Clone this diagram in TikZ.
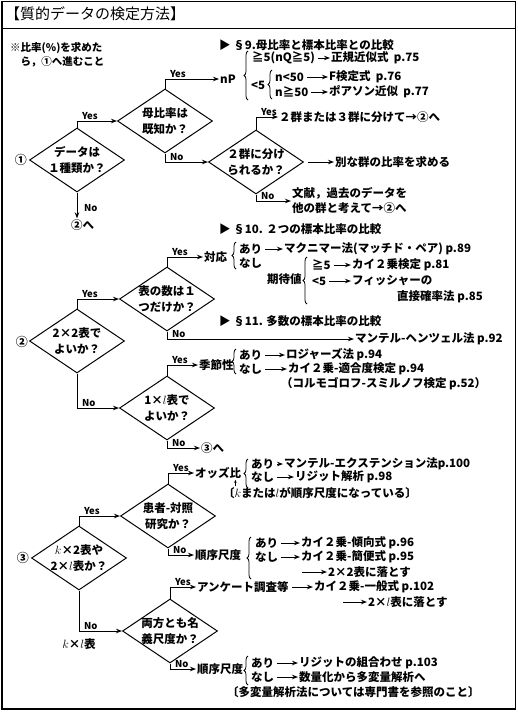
\documentclass[tikz,border=0pt]{standalone}
\usepackage{fontspec}
\setmainfont{Noto Sans CJK JP}
\usetikzlibrary{shapes.geometric,arrows.meta,decorations.pathreplacing}

\tikzset{
  ask/.style={diamond, draw, aspect=1.5, line width=1pt, inner sep=-2pt,
    minimum width=95pt, minimum height=64pt, align=center,
    font=\bfseries\fontsize{11.5}{16}\selectfont},
  txt/.style={anchor=west, inner sep=1pt, font=\bfseries\fontsize{11.5}{15}\selectfont},
  yn/.style={pos=0.5, anchor=south west, xshift=4pt, inner sep=0.5pt,
    font=\bfseries\fontsize{9.5}{10}\selectfont},
  num/.style={anchor=east, inner sep=1pt, font=\bfseries\fontsize{12}{12}\selectfont},
  flow/.style={line width=1pt, -{Stealth[length=6pt,width=4.5pt]}},
  go/.style={flow, shorten <=2pt},
  brc/.style={decorate, decoration={brace, amplitude=4pt}, line width=0.8pt},
}

\begin{document}
\begin{tikzpicture}[x=1pt,y=-1pt]
\useasboundingbox (0,0) rectangle (518,713);

% Frame
\draw[line width=1.2pt] (2,1.5) rectangle (515.5,709);
\draw[line width=1pt] (2,28) -- (515.5,28);
\node[txt, font=\fontsize{15}{15}\selectfont] (title) at (4,14) {【質的データの検定方法】};
\node[txt, align=left, font=\bfseries\fontsize{10.5}{14}\selectfont] (memo) at (9,55)
  {※比率(\%)を求めた\\\hspace*{1em}ら，①へ進むこと};

% Section 1
\node[num] (n1) at (28,160) {①};
\node[ask] (d1) at (77,160) {データは\\１種類か？};
\node[ask] (d2) at (165,121) {母比率は\\既知か？};
\node[ask] (d3) at (256,162) {２群に分け\\られるか？};
\node[txt] (to2) at (70,225) {②へ};
\node[txt] (np) at (219,79) {nP};
\node[txt] (goal2) at (278,117) {２群または３群に分けて→②へ};
\node[txt] (other) at (334,162) {別な群の比率を求める};
\node[txt, align=left] (lit) at (291,201) {文献，過去のデータを\\他の群と考えて→②へ};

\draw[flow] (d1.north) |- node[yn]{Yes} (d2.west);
\draw[flow] (d1.south) -- node[yn, pos=0.6, anchor=west, xshift=2pt]{No} (d1.south |- to2.north);
\draw[flow] (d2.north) |- node[yn]{Yes} (np.west);
\draw[flow] (d2.south) |- node[yn]{No} (d3.west);
\draw[flow] (d3.north) |- node[yn]{Yes} (goal2.west);
\draw[go, shorten <=4pt] (d3.east) -- (other.west);
\draw[flow] (d3.south) |- node[yn]{No} (lit.west);

% nP
\node[txt] (sec9) at (218,45) {▶ §9.母比率と標本比率との比較};
\draw[brc] (248,100) -- (248,51);
\node[txt] (ge5) at (251,58) {≧5(nQ≧5)};
\node[txt] (norm) at (330,58) {正規近似式\ \ p.75};
\node[txt] (lt5) at (250,85) {<5};
\draw[brc] (272,99) -- (272,70);
\node[txt] (nlt) at (274,77) {n<50};
\node[txt] (fdist) at (328,77) {F検定式\ \ p.76};
\node[txt] (nge) at (274,92) {n≧50};
\node[txt] (pois) at (328,92) {ポアソン近似\ \ p.77};
\draw[go] (ge5) -- (norm);
\draw[go] (nlt) -- (fdist);
\draw[go] (nge) -- (pois);

% Section 2
\node[num] (n2) at (29,342) {②};
\node[ask] (d5) at (77,341) {2×2表で\\よいか？};
\node[ask] (d4) at (167,299) {表の数は１\\つだけか？};
\node[ask] (d6) at (167,408) {1×$l$表で\\よいか？};
\node[txt] (sec10) at (218,229) {▶ §10. ２つの標本比率の比較};
\node[txt] (pair) at (203,257) {対応};
\draw[brc] (236,269) -- (236,242);
\node[txt] (pairy) at (238,249) {あり};
\node[txt] (mcn) at (283,249) {マクニマー法(マッチド・ペア)\ p.89};
\node[txt] (pairn) at (238,263) {なし};
\node[txt] (expv) at (266,279) {期待値};
\draw[brc] (307,304) -- (307,257);
\node[txt] (e5) at (311,265) {≧5};
\node[txt] (chi) at (351,265) {カイ２乗検定 p.81};
\node[txt] (e4) at (311,281) {<5};
\node[txt] (fish) at (351,281) {フィッシャーの};
\node[txt] (fish2) at (396,297) {直接確率法 p.85};
\draw[go] (pairy) -- (mcn);
\draw[go] (e5) -- (chi);
\draw[go] (e4) -- (fish);
\node[txt] (sec11) at (218,321) {▶ §11. 多数の標本比率の比較};
\node[txt] (mh) at (354,339) {マンテル-ヘンツェル法 p.92};
\node[txt] (seas) at (198,365) {季節性};
\draw[brc] (236,374) -- (236,349);
\node[txt] (seasy) at (238,355) {あり};
\node[txt] (rog) at (285,355) {ロジャーズ法 p.94};
\node[txt] (seasn) at (238,369) {なし};
\node[txt] (fit) at (287,369) {カイ２乗-適合度検定 p.94};
\node[txt] (ks) at (280,384) {（コルモゴロフ-スミルノフ検定 p.52）};
\node[txt] (to3) at (200,448) {③へ};
\draw[go] (seasy) -- (rog);
\draw[go] (seasn) -- (fit);

\draw[flow] (d5.north) |- node[yn]{Yes} (d4.west);
\draw[flow] (d4.north) |- node[yn]{Yes} (pair.west);
\draw[flow] (d4.south) |- node[yn]{No} (mh.west);
\draw[flow] (d5.south) |- node[yn]{No} (d6.west);
\draw[flow] (d6.north) |- node[yn]{Yes} (seas.west);
\draw[flow] (d6.south) |- node[yn]{No} (to3.west);

% Section 3
\node[num] (n3) at (30,558) {③};
\node[ask] (d7) at (79,558) {$k$×2表や\\2×$l$表か？};
\node[ask] (d8) at (168,516) {患者-対照\\研究か？};
\node[ask] (d9) at (170,631) {両方とも名\\義尺度か？};
\node[txt, anchor=center] (kl) at (79,644) {$k$×$l$表};
\node[txt] (odds) at (194,473) {オッズ比};
\draw[brc] (248,488) -- (248,459);
\node[txt] (oddsy) at (250,464) {あり};
\node[txt] (ext) at (283,464) {マンテル-エクステンション法p.100};
\node[txt] (oddsn) at (250,477) {なし};
\node[txt] (logit) at (294,477) {リジット解析 p.98};
\node[txt] (ordnote) at (222,493) {〔$k$または$l$が順序尺度になっている〕};
\draw[go] (oddsy) -- (ext);
\draw[go] (oddsn) -- (logit);
\draw[line width=0.7pt, -{Stealth[length=3pt,width=2.5pt]}] ([xshift=-7pt]odds.south east |- ordnote.north) -- ([xshift=-7pt]odds.south east);

\node[txt] (ord1) at (194,555) {順序尺度};
\draw[brc] (251,579) -- (251,537);
\node[txt] (ord1y) at (254,543) {あり};
\node[txt] (trend) at (300,543) {カイ２乗-傾向式 p.96};
\node[txt] (ord1n) at (254,557) {なし};
\node[txt] (simple) at (300,557) {カイ２乗-簡便式 p.95};
\coordinate (drop2s) at (302,572);
\node[txt] (drop2) at (327,572) {2×2表に落とす};
\draw[go] (ord1y) -- (trend);
\draw[go] (ord1n) -- (simple);
\draw[flow] (drop2s) -- (drop2);

\node[txt] (survey) at (196,587) {アンケート調査等};
\node[txt] (gen) at (313,587) {カイ２乗-一般式 p.102};
\coordinate (dropls) at (343,602);
\node[txt] (dropl) at (367,602) {2×$l$表に落とす};
\draw[go] (survey) -- (gen);
\draw[flow] (dropls) -- (dropl);

\node[txt] (ord2) at (196,669) {順序尺度};
\draw[brc] (248,685) -- (248,656);
\node[txt] (ord2y) at (250,663) {あり};
\node[txt] (ridcomb) at (298,663) {リジットの組合わせ p.103};
\node[txt] (ord2n) at (250,677) {なし};
\node[txt] (multi) at (298,677) {数量化から多変量解析へ};
\node[txt] (multinote) at (226,692) {〔多変量解析法については専門書を参照のこと〕};
\draw[go] (ord2y) -- (ridcomb);
\draw[go] (ord2n) -- (multi);

\draw[flow] (d7.north) |- node[yn]{Yes} (d8.west);
\draw[flow] (d8.north) |- node[yn]{Yes} (odds.west);
\draw[flow] (d8.south) |- node[yn]{No} (ord1.west);
\draw[flow] (d7.south) |- node[yn]{No} (d9.west);
\draw[flow] (d9.north) |- node[yn]{Yes} (survey.west);
\draw[flow] (d9.south) |- node[yn]{No} (ord2.west);

\end{tikzpicture}
\end{document}
